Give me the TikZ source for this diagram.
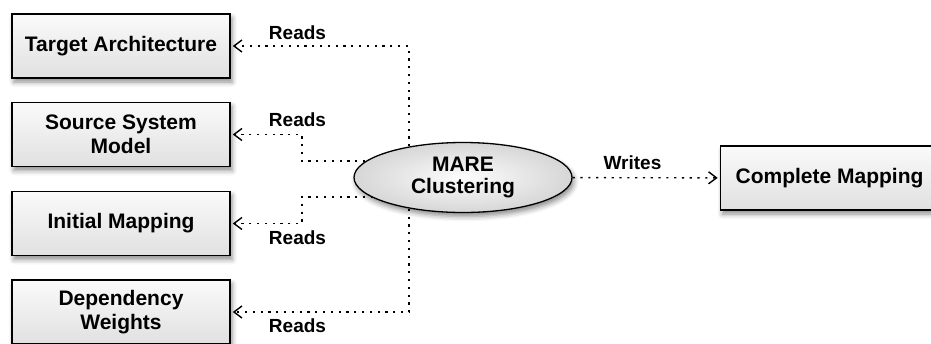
\documentclass[tikz,border=0pt]{standalone}
\usepackage{fontspec}
\setmainfont{Liberation Sans}
\usetikzlibrary{arrows.meta,shadows.blur,shapes.geometric,backgrounds,calc}
\begin{document}
\begin{tikzpicture}[x=1pt,y=-1pt,
  box/.style={draw=black, line width=1.6pt, minimum width=218pt, minimum height=64pt,
    inner sep=0pt, top color=gray!4, bottom color=gray!24, align=center,
    font=\fontsize{21}{24}\selectfont\bfseries,
    blur shadow={shadow xshift=2pt, shadow yshift=-4pt, shadow blur radius=5pt, shadow opacity=45}},
  ell/.style={ellipse, draw=black, line width=1.3pt, minimum width=218pt, minimum height=70pt,
    inner sep=0pt, inner color=gray!2, outer color=gray!32, align=center,
    font=\fontsize{21}{22}\selectfont\bfseries,
    blur shadow={shadow xshift=2pt, shadow yshift=-4pt, shadow blur radius=5pt, shadow opacity=45}},
  lbl/.style={inner sep=0pt, font=\fontsize{19}{20}\selectfont\bfseries},
  conn/.style={line width=1.4pt, dash pattern=on 2.2pt off 5.6pt,
    -{Straight Barb[length=8pt,width=12pt,line width=1.4pt]}, shorten >=2pt}
]
\useasboundingbox (0,0) rectangle (931,343);

\node[box] (tgt) at (121,46) {Target Architecture};
\node[box] (src) at (121,134.5) {Source System\\Model};
\node[box] (ini) at (121,223.5) {Initial Mapping};
\node[box] (dep) at (121,312) {Dependency\\Weights};
\node[box] (cmp) at (829.5,178) {Complete Mapping};
\node[ell] (mare) at (463,177.5) {MARE\\Clustering};

\node[lbl] (r1) at (297.5,33) {Reads};
\node[lbl] (r2) at (297.5,120) {Reads};
\node[lbl] (r3) at (297.5,238) {Reads};
\node[lbl] (r4) at (297.5,326) {Reads};
\node[lbl] (w) at (632.5,163) {Writes};

\begin{scope}[on background layer]
  \draw[conn] ([xshift=-54pt]mare.center) |- (tgt.east);
  \draw[conn] ([xshift=-54pt]mare.center) |- (dep.east);
  \draw[conn] ([xshift=-90pt,yshift=16.5pt]mare.center) -| ($(src.east)+(71,0)$) -- (src.east);
  \draw[conn] ([xshift=-90pt,yshift=-19.5pt]mare.center) -| ($(ini.east)+(71,0)$) -- (ini.east);
\end{scope}
\draw[conn] (mare) -- (cmp);
\end{tikzpicture}
\end{document}
